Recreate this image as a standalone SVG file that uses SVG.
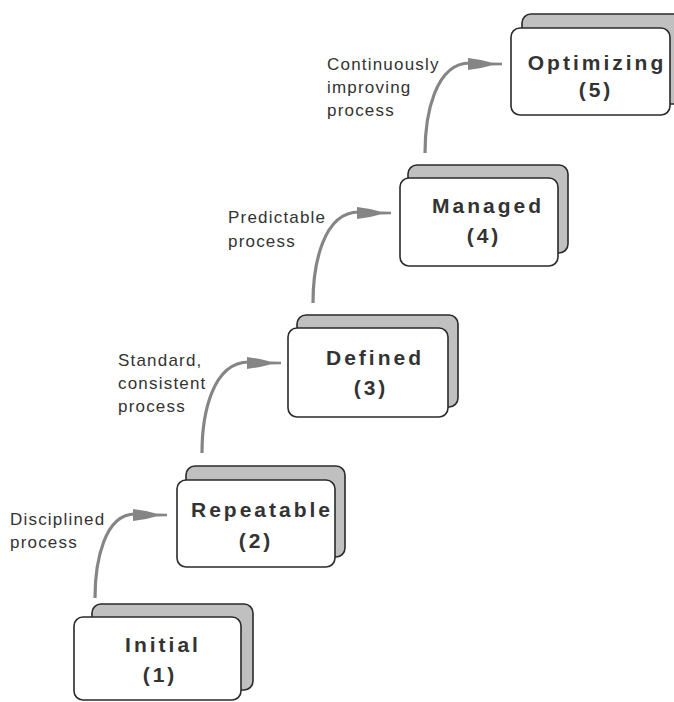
<svg xmlns="http://www.w3.org/2000/svg" width="674" height="702" viewBox="0 0 674 702">
<style>
.back{fill:#c0c0c0;stroke:#2a2a2a;stroke-width:1.6}
.front{fill:#ffffff;stroke:#2a2a2a;stroke-width:1.6}
.title{font-family:"Liberation Sans",Arial,sans-serif;font-weight:bold;font-size:21px;letter-spacing:3px;fill:#333;text-anchor:middle}
.lbl{font-family:"Liberation Sans",Arial,sans-serif;font-size:17px;letter-spacing:1.2px;fill:#333}
.curve{fill:none;stroke:#858585;stroke-width:3.2;stroke-linecap:butt}
.head{fill:#858585}
</style>
<defs>
<path id="ah" d="M0,-6 L13,-4 L23,-1.5 L34,-1.2 L34,1.2 L23,1.5 L13,4 L0,6 Z"/>
</defs>
<rect width="674" height="702" fill="#fff"/>
<g id="connectors">
<path class="curve" d="M95,598 C95,560 105,514 135,514"/>
<use href="#ah" class="head" transform="translate(133,515)"/>
<path class="curve" d="M202,453 C202,415 212,362 249,362"/>
<use href="#ah" class="head" transform="translate(247,363)"/>
<path class="curve" d="M313,303 C313,265 323,212 359,212"/>
<use href="#ah" class="head" transform="translate(357,213)"/>
<path class="curve" d="M425,153 C425,115 435,63 470,63"/>
<use href="#ah" class="head" transform="translate(468,64)"/>
</g>
<g id="labels">
<text class="lbl" x="10" y="525">Disciplined</text>
<text class="lbl" x="10" y="548">process</text>
<text class="lbl" x="118" y="366">Standard,</text>
<text class="lbl" x="118" y="389">consistent</text>
<text class="lbl" x="118" y="412">process</text>
<text class="lbl" x="228" y="223">Predictable</text>
<text class="lbl" x="228" y="247">process</text>
<text class="lbl" x="327" y="70">Continuously</text>
<text class="lbl" x="327" y="93">improving</text>
<text class="lbl" x="327" y="116">process</text>
</g>
<g id="initial">
<rect class="back" x="92" y="604" width="161" height="86" rx="9"/>
<rect class="front" x="74" y="617" width="167" height="83" rx="9"/>
<text class="title" x="163" y="652">Initial</text>
<text class="title" x="160" y="682">(1)</text>
</g>
<g id="repeatable">
<rect class="back" x="186" y="466" width="159" height="91" rx="9"/>
<rect class="front" x="177" y="480" width="158" height="87" rx="9"/>
<text class="title" x="262" y="517">Repeatable</text>
<text class="title" x="256" y="548">(2)</text>
</g>
<g id="defined">
<rect class="back" x="297" y="315" width="161" height="92" rx="9"/>
<rect class="front" x="288" y="328" width="160" height="89" rx="9"/>
<text class="title" x="375" y="365">Defined</text>
<text class="title" x="371" y="395">(3)</text>
</g>
<g id="managed">
<rect class="back" x="408" y="165" width="160" height="88" rx="9"/>
<rect class="front" x="400" y="178" width="158" height="88" rx="9"/>
<text class="title" x="488" y="213">Managed</text>
<text class="title" x="484" y="243">(4)</text>
</g>
<g id="optimizing">
<rect class="back" x="522" y="14" width="170" height="90" rx="9"/>
<rect class="front" x="511" y="28" width="159" height="87" rx="9"/>
<text class="title" x="597" y="70">Optimizing</text>
<text class="title" x="596" y="97">(5)</text>
</g>
</svg>
